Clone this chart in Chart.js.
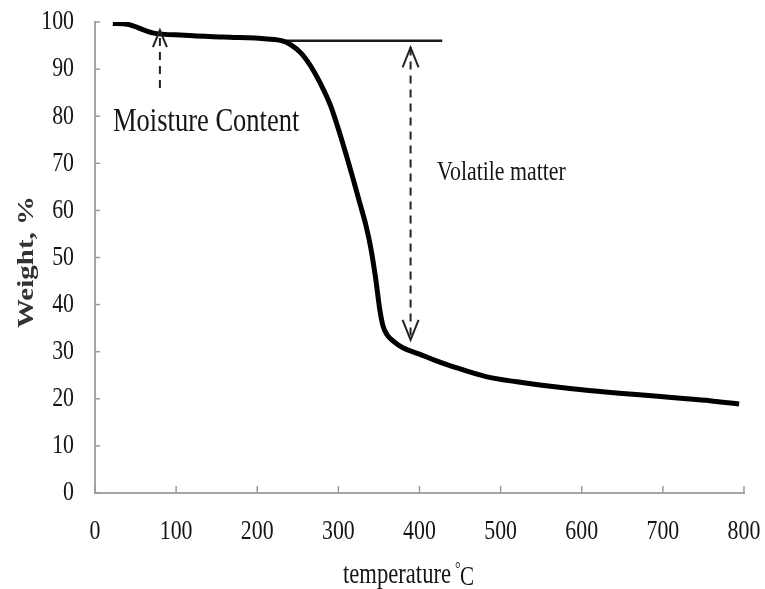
<!DOCTYPE html>
<html>
<head>
<meta charset="utf-8">
<title>TGA curve</title>
<script src="https://cdn.jsdelivr.net/npm/chart.js"></script>
<style>
  html, body { margin: 0; padding: 0; background: #fff; }
  #wrap { width: 765px; height: 589px; position: relative; }
</style>
</head>
<body>
<div id="wrap"><canvas id="tga"></canvas></div>
<script>
// thermogravimetric curve (temperature in degC, remaining weight in %)
const temperature = [22, 40, 71, 110, 158, 212, 231, 242, 254, 266, 278, 290, 300, 310, 318, 326, 334, 340, 346, 351, 355, 360, 368, 380, 400, 420, 440, 482, 520, 564, 606, 646, 690, 729, 762, 794];
const weight = [99.7, 99.5, 97.7, 97.2, 96.8, 96.4, 96.0, 95.1, 93.4, 90.6, 86.9, 82.4, 77.3, 71.6, 66.8, 61.8, 56.8, 52.0, 45.5, 39.0, 35.5, 33.6, 32.2, 30.8, 29.5, 28.1, 26.9, 24.7, 23.6, 22.6, 21.8, 21.2, 20.6, 20.0, 19.5, 18.9];

// reference level after drying
const plateauX = [231, 428];
const plateauY = [96, 96];

// dashed arrows: moisture (head at top), volatile matter (heads at both ends)
const moistureX = [80, 80];
const moistureY = [86, 98.3];
const volatileX = [389, 389];
const volatileY = [94.6, 32.5];

const xTicks = [0, 100, 200, 300, 400, 500, 600, 700, 800];
const yTicks = [0, 10, 20, 30, 40, 50, 60, 70, 80, 90, 100];

const toPoints = (xs, ys) => xs.map((v, i) => ({ x: v, y: ys[i] }));

const SERIF = '"Liberation Serif", "Times New Roman", serif';
const SQUEEZE = 0.78;

function squeezedText(ctx, text, px, py, font, align) {
    ctx.save();
    ctx.translate(px, py);
    ctx.scale(SQUEEZE, 1);
    ctx.font = font;
    ctx.textAlign = align;
    ctx.textBaseline = 'middle';
    ctx.fillStyle = '#151515';
    ctx.fillText(text, 0, 0);
    ctx.restore();
}

function arrowHead(ctx, px, py, dir, len, half) {
    // dir = -1 points up, 1 points down
    ctx.beginPath();
    ctx.moveTo(px - half, py - dir * len);
    ctx.lineTo(px, py);
    ctx.lineTo(px + half, py - dir * len);
    ctx.stroke();
}

const figurePlugin = {
    id: 'figure',
    afterDraw(chart) {
        const { ctx, scales: { x, y } } = chart;
        const x0 = x.getPixelForValue(0);
        const y0 = y.getPixelForValue(0);

        // tick marks inside the axes
        ctx.save();
        ctx.strokeStyle = '#9a9a9a';
        ctx.lineWidth = 1.5;
        yTicks.forEach(t => {
            const py = y.getPixelForValue(t);
            ctx.beginPath();
            ctx.moveTo(x0, py);
            ctx.lineTo(x0 + 5, py);
            ctx.stroke();
        });
        xTicks.forEach(t => {
            const px = x.getPixelForValue(t);
            ctx.beginPath();
            ctx.moveTo(px, y0);
            ctx.lineTo(px, y0 - 7);
            ctx.stroke();
        });
        ctx.restore();

        // tick labels
        yTicks.forEach(t => squeezedText(ctx, String(t), 74, y.getPixelForValue(t), '28px ' + SERIF, 'right'));
        xTicks.forEach(t => squeezedText(ctx, String(t), x.getPixelForValue(t), 532, '28px ' + SERIF, 'center'));

        // arrow heads
        ctx.save();
        ctx.strokeStyle = '#222';
        ctx.lineWidth = 2;
        arrowHead(ctx, x.getPixelForValue(moistureX[1]), y.getPixelForValue(moistureY[1]), -1, 17, 7);
        arrowHead(ctx, x.getPixelForValue(volatileX[0]), y.getPixelForValue(volatileY[0]), -1, 20, 8);
        arrowHead(ctx, x.getPixelForValue(volatileX[1]), y.getPixelForValue(volatileY[1]), 1, 20, 8);
        ctx.restore();

        // annotations and axis titles
        squeezedText(ctx, 'Moisture Content', 113, 122, '34px ' + SERIF, 'left');
        squeezedText(ctx, 'Volatile matter', 437, 173, '28px ' + SERIF, 'left');
        squeezedText(ctx, 'temperature', 343, 575, '29px ' + SERIF, 'left');
        squeezedText(ctx, '°', 455, 570, '18px ' + SERIF, 'left');
        squeezedText(ctx, 'C', 460, 578, '27px ' + SERIF, 'left');

        ctx.save();
        ctx.translate(27, 262);
        ctx.rotate(-Math.PI / 2);
        ctx.scale(1, SQUEEZE);
        ctx.font = 'bold 29px ' + SERIF;
        ctx.textAlign = 'center';
        ctx.textBaseline = 'middle';
        ctx.fillStyle = '#333';
        ctx.fillText('Weight, %', 0, 0);
        ctx.restore();
    }
};

new Chart(document.getElementById('tga'), {
    type: 'line',
    data: {
        datasets: [
            {
                data: toPoints(temperature, weight),
                borderColor: '#000',
                borderWidth: 5,
                pointRadius: 0,
                cubicInterpolationMode: 'monotone'
            },
            {
                data: toPoints(plateauX, plateauY),
                borderColor: '#1a1a1a',
                borderWidth: 2.5,
                pointRadius: 0
            },
            {
                data: toPoints(moistureX, moistureY),
                borderColor: '#222',
                borderWidth: 2,
                borderDash: [8, 6],
                pointRadius: 0
            },
            {
                data: toPoints(volatileX, volatileY),
                borderColor: '#222',
                borderWidth: 2,
                borderDash: [8, 6],
                pointRadius: 0
            }
        ]
    },
    options: {
        responsive: true,
        maintainAspectRatio: false,
        animation: false,
        layout: { padding: { left: 95, top: 22, right: 21, bottom: 96 } },
        plugins: { legend: { display: false }, tooltip: { enabled: false } },
        scales: {
            x: {
                type: 'linear',
                min: 0,
                max: 800,
                grid: { display: false, drawTicks: false },
                ticks: { display: false },
                border: { display: true, color: '#a5a5a5', width: 2 }
            },
            y: {
                min: 0,
                max: 100,
                grid: { display: false, drawTicks: false },
                ticks: { display: false },
                border: { display: true, color: '#a5a5a5', width: 2 }
            }
        }
    },
    plugins: [figurePlugin]
});
</script>
</body>
</html>
